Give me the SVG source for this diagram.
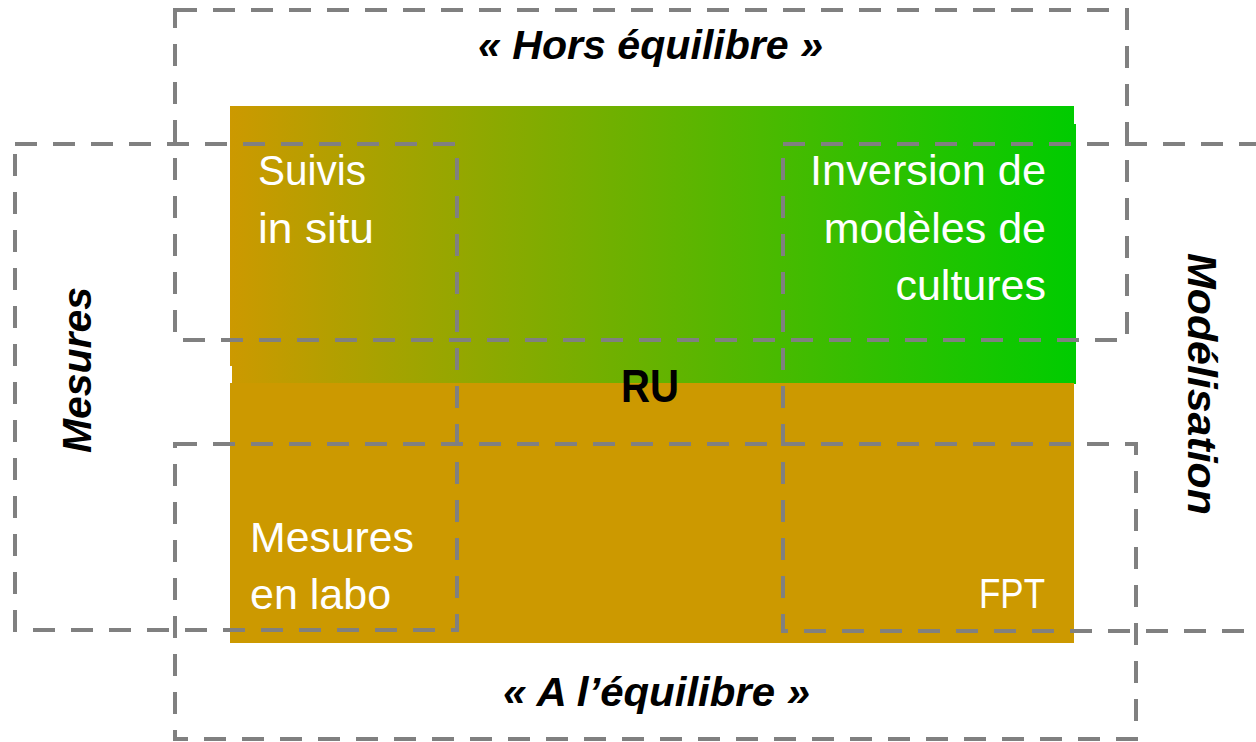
<svg xmlns="http://www.w3.org/2000/svg" width="1256" height="742" viewBox="0 0 1256 742">
  <defs>
    <linearGradient id="grad" gradientUnits="userSpaceOnUse" x1="230" y1="0" x2="1076" y2="0">
      <stop offset="0" stop-color="#CC9900"/>
      <stop offset="1" stop-color="#00CC00"/>
    </linearGradient>
    <style>
      .box { fill: none; stroke: #808080; stroke-width: 4; stroke-dasharray: 22 16; }
      .lbl { font-family: "Liberation Sans", Arial, sans-serif; font-size: 43px; fill: #FFFFFF; }
      .cat { font-family: "Liberation Sans", Arial, sans-serif; font-size: 41px; font-weight: bold; font-style: italic; fill: #000000; }
      .ru { font-family: "Liberation Sans", Arial, sans-serif; font-size: 46px; font-weight: bold; fill: #000000; }
    </style>
  </defs>
  <rect width="1256" height="742" fill="#FFFFFF"/>

  <g id="fills">
    <rect x="230" y="106" width="844" height="260" fill="url(#grad)"/>
    <rect x="232" y="124" width="844" height="260" fill="url(#grad)"/>
    <rect x="230" y="383" width="844" height="260" fill="#CC9900"/>
  </g>

  <g id="connectors">
    <rect id="box-hors" class="box" x="175" y="10" width="952" height="330"/>
    <rect id="box-mesures" class="box" x="15" y="144" width="442" height="486"/>
    <rect id="box-modelisation" class="box" x="783" y="144" width="500" height="487"/>
    <rect id="box-equilibre" class="box" x="175" y="444" width="961" height="295"/>
  </g>

  <g id="node-hors">
    <text class="cat" x="650.5" y="59" text-anchor="middle" textLength="345" lengthAdjust="spacingAndGlyphs">« Hors équilibre »</text>
  </g>
  <g id="node-equilibre">
    <text class="cat" x="656.5" y="706" text-anchor="middle" textLength="307" lengthAdjust="spacingAndGlyphs">« A l’équilibre »</text>
  </g>
  <g id="node-mesures">
    <text class="cat" transform="translate(91,370) rotate(-90)" x="0" y="0" text-anchor="middle" textLength="166" lengthAdjust="spacingAndGlyphs">Mesures</text>
  </g>
  <g id="node-modelisation">
    <text class="cat" transform="translate(1188,384) rotate(90)" x="0" y="0" text-anchor="middle" textLength="262" lengthAdjust="spacingAndGlyphs">Modélisation</text>
  </g>

  <g id="node-suivis">
    <text class="lbl" x="258" y="185" textLength="108" lengthAdjust="spacingAndGlyphs">Suivis</text>
    <text class="lbl" x="258" y="243" textLength="116" lengthAdjust="spacingAndGlyphs">in situ</text>
  </g>
  <g id="node-inversion">
    <text class="lbl" x="1046" y="185" text-anchor="end" textLength="236" lengthAdjust="spacingAndGlyphs">Inversion de</text>
    <text class="lbl" x="1046" y="243" text-anchor="end">modèles de</text>
    <text class="lbl" x="1046" y="300" text-anchor="end">cultures</text>
  </g>
  <g id="node-labo">
    <text class="lbl" x="250" y="552" textLength="164" lengthAdjust="spacingAndGlyphs">Mesures</text>
    <text class="lbl" x="250" y="609">en labo</text>
  </g>
  <g id="node-fpt">
    <text class="lbl" x="1045" y="608" text-anchor="end" textLength="66" lengthAdjust="spacingAndGlyphs">FPT</text>
  </g>
  <g id="node-ru">
    <text class="ru" x="650" y="402" text-anchor="middle" textLength="58" lengthAdjust="spacingAndGlyphs">RU</text>
  </g>
</svg>
